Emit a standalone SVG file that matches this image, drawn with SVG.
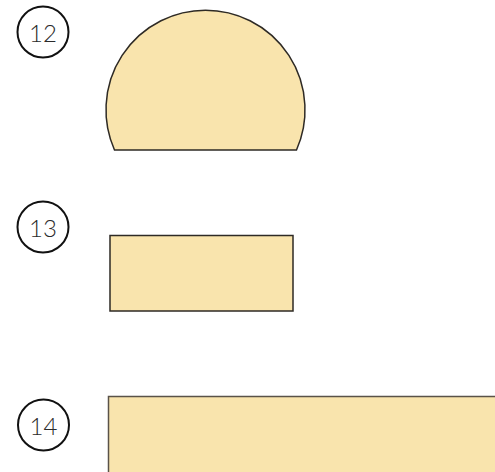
<svg xmlns="http://www.w3.org/2000/svg" width="495" height="472" viewBox="0 0 495 472">
<style>
.badge{fill:#fff;stroke:#111;stroke-width:2}
.num{font-family:Lato,"Open Sans","Liberation Sans",sans-serif;font-weight:300;font-size:24px;fill:#2a2a2a;text-anchor:middle;dominant-baseline:central}
.shape{fill:#f9e4ad;stroke:#2e2a25;stroke-width:1.5}
</style>
<rect width="495" height="472" fill="#fff"/>
<g id="badge12"><circle class="badge" cx="43" cy="32" r="25.5"/><text class="num" x="43" y="32">12</text></g>
<g id="shape12"><path class="shape" d="M114.5,150 A99.5,99.5 0 1 1 296.5,150 Z"/></g>
<g id="badge13"><circle class="badge" cx="43" cy="227" r="25.5"/><text class="num" x="43" y="227">13</text></g>
<g id="shape13"><rect class="shape" x="110" y="235.5" width="183" height="75.5"/></g>
<g id="badge14"><circle class="badge" cx="43.5" cy="425" r="25.5"/><text class="num" x="43.5" y="425">14</text></g>
<g id="shape14"><rect class="shape" style="stroke:#5a5248" x="108.5" y="396.5" width="400" height="90"/></g>
<g id="connectors"/>
</svg>
